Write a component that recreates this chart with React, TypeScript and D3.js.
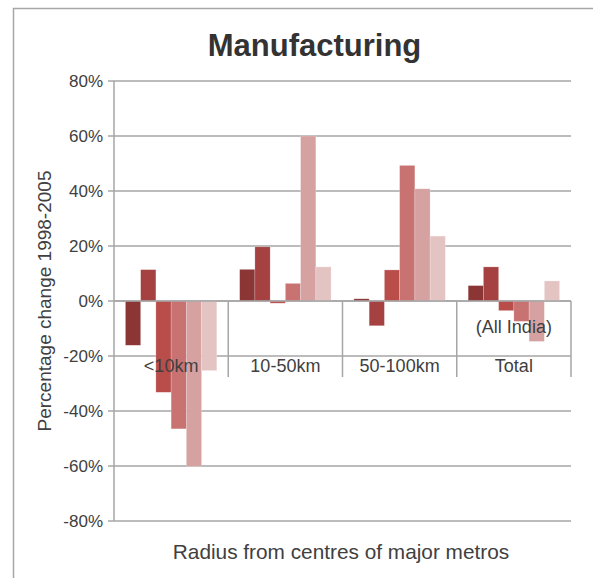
import React from "react";
import * as d3 from "d3";

const categories = ["<10km", "10-50km", "50-100km", "Total"];
const subLabels = ["", "", "", "(All India)"];
const seriesKeys = ["s1", "s2", "s3", "s4", "s5", "s6"];
const s1 = [-16.1, 11.5, 0.8, 5.6];
const s2 = [11.4, 19.7, -9.0, 12.4];
const s3 = [-33.2, -0.8, 11.3, -3.5];
const s4 = [-46.5, 6.4, 49.3, -7.4];
const s5 = [-60.1, 60.0, 40.8, -14.7];
const s6 = [-25.3, 12.4, 23.6, 7.3];
const seriesValues = [s1, s2, s3, s4, s5, s6];
const seriesColors = ["#8C3535", "#A54141", "#B94D4A", "#C87272", "#D6A1A1", "#E4C4C3"];
const yTicks = [-80, -60, -40, -20, 0, 20, 40, 60, 80];

const W = 593;
const H = 578;
const left = 114;
const right = 571;
const top = 81;
const bottom = 521;
const textColor = "#404040";
const gridColor = "#A6A6A6";
const font = "'Liberation Sans', Arial, sans-serif";

export default function App() {
  const y = d3.scaleLinear().domain([-80, 80]).range([bottom, top]);
  const x = d3.scaleBand<string>().domain(categories).range([left, right]).padding(0);
  const bw = x.bandwidth();
  const xs = d3
    .scaleBand<string>()
    .domain(seriesKeys)
    .range([bw * 0.1, bw * 0.9])
    .padding(0);
  const y0 = y(0);
  const catBottom = 377;

  return (
    <svg
      width={W}
      height={H}
      style={{ position: "absolute", left: 0, top: 0, background: "#fff" }}
      fontFamily={font}
    >
      {/* outer border */}
      <path d={`M13.5,${H + 2} V8.5 H${W + 2}`} fill="none" stroke="#A6A6A6" strokeWidth={1.5} />

      <text x={314.5} y={56} textAnchor="middle" fontSize={31} fontWeight="bold" fill="#333">
        Manufacturing
      </text>

      {/* gridlines & ticks */}
      {yTicks.map((t) => (
        <g key={t}>
          <line x1={left - 6} x2={right} y1={y(t)} y2={y(t)} stroke={gridColor} strokeWidth={1.5} />
          <text x={103} y={y(t) + 6} textAnchor="end" fontSize={17} fill={textColor}>
            {t}%
          </text>
        </g>
      ))}

      {/* bars */}
      {categories.map((c, ci) => (
        <g key={c} transform={`translate(${x(c)},0)`}>
          {seriesKeys.map((k, si) => {
            const v = seriesValues[si][ci];
            const yy = Math.min(y(v), y0);
            const h = Math.abs(y(v) - y0);
            return (
              <rect
                key={k}
                x={xs(k)}
                y={yy}
                width={xs.bandwidth()}
                height={h}
                fill={seriesColors[si]}
                stroke="#ffffff"
                strokeOpacity={0.35}
                strokeWidth={0.6}
              />
            );
          })}
        </g>
      ))}

      {/* zero line */}
      <line x1={left} x2={right} y1={y0} y2={y0} stroke={gridColor} strokeWidth={1.5} />

      {/* category separators */}
      {categories.map((c) => (
        <line
          key={"sep" + c}
          x1={(x(c) as number) + bw}
          x2={(x(c) as number) + bw}
          y1={y0}
          y2={catBottom}
          stroke={gridColor}
          strokeWidth={1.5}
        />
      ))}

      {/* y axis */}
      <line x1={left} x2={left} y1={top} y2={bottom} stroke={gridColor} strokeWidth={1.5} />

      {/* category labels */}
      {categories.map((c, i) => (
        <g key={"lab" + c}>
          <text
            x={(x(c) as number) + bw / 2}
            y={372}
            textAnchor="middle"
            fontSize={18}
            fill={textColor}
          >
            {c}
          </text>
          {subLabels[i] && (
            <text
              x={(x(c) as number) + bw / 2}
              y={333}
              textAnchor="middle"
              fontSize={18}
              fill={textColor}
            >
              {subLabels[i]}
            </text>
          )}
        </g>
      ))}

      {/* axis titles */}
      <text
        transform={`translate(51,${y0}) rotate(-90)`}
        textAnchor="middle"
        fontSize={19}
        fill={textColor}
      >
        Percentage change 1998-2005
      </text>
      <text x={341} y={559} textAnchor="middle" fontSize={20.8} fill={textColor}>
        Radius from centres of major metros
      </text>
    </svg>
  );
}
